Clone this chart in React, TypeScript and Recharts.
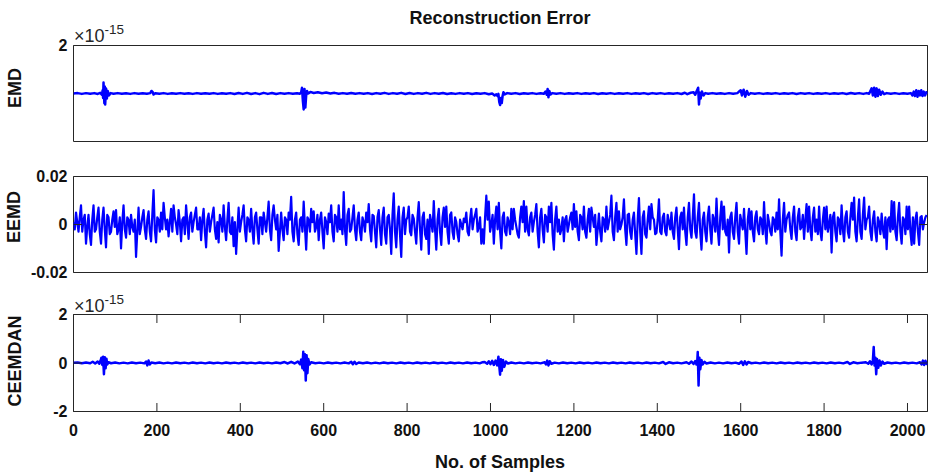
import React from 'react';
import { LineChart, Line, XAxis, YAxis, ReferenceArea } from 'recharts';

const W = 932;
const H = 472;
const FONT = '"Liberation Sans", Arial, Helvetica, sans-serif';
const BLUE = '#0000ff';
const AXIS = '#262626';
const TICK_LEN = 8.5;
const N_MAX = 2048;

// x ticks (sample index)
const xTicks = [0, 200, 400, 600, 800, 1000, 1200, 1400, 1600, 1800, 2000];

// EMD reconstruction error, [sample, value x 1e-15]
const emdPoints: [number, number][] = [
  [0, 1.25], [10, 1.256], [20, 1.244], [30, 1.256], [40, 1.245], [50, 1.256], [58, 1.243], [64, 1.26], [68, 1.23], [70, 1.3],
  [71, 1.18], [72, 1.42], [74, 1.1], [75, 1.36], [76, 1.08], [78, 1.33], [80, 1.17], [82, 1.29], [85, 1.22], [89, 1.256],
  [96, 1.245], [106, 1.256], [116, 1.245], [126, 1.255], [136, 1.244], [146, 1.256], [156, 1.245], [166, 1.255], [176, 1.245], [184, 1.256],
  [187, 1.29], [190, 1.27], [192, 1.235], [196, 1.255], [206, 1.245], [216, 1.256], [226, 1.244], [236, 1.255], [246, 1.245], [256, 1.256],
  [266, 1.245], [276, 1.255], [286, 1.244], [296, 1.256], [306, 1.245], [316, 1.255], [326, 1.245], [336, 1.256], [346, 1.244], [356, 1.255],
  [366, 1.245], [376, 1.256], [386, 1.242], [396, 1.258], [406, 1.244], [416, 1.26], [426, 1.242], [436, 1.256], [446, 1.24], [456, 1.26],
  [466, 1.244], [476, 1.258], [486, 1.242], [496, 1.256], [506, 1.245], [516, 1.256], [526, 1.245], [536, 1.255], [543, 1.246], [546, 1.27],
  [548, 1.34], [550, 1.14], [552, 1.0], [553, 1.24], [554, 1.32], [556, 1.03], [558, 1.22], [560, 1.29], [563, 1.25], [568, 1.275],
  [576, 1.258], [586, 1.27], [596, 1.255], [606, 1.265], [616, 1.25], [626, 1.26], [636, 1.247], [646, 1.256], [656, 1.245], [666, 1.258],
  [676, 1.245], [686, 1.256], [696, 1.245], [706, 1.256], [716, 1.242], [726, 1.256], [736, 1.245], [746, 1.26], [756, 1.244], [766, 1.256],
  [776, 1.245], [786, 1.26], [796, 1.242], [806, 1.258], [816, 1.244], [826, 1.256], [836, 1.245], [846, 1.26], [856, 1.244], [866, 1.256],
  [876, 1.245], [886, 1.258], [896, 1.242], [906, 1.255], [916, 1.244], [926, 1.256], [936, 1.245], [946, 1.256], [956, 1.242], [966, 1.255],
  [976, 1.245], [986, 1.256], [996, 1.238], [1004, 1.25], [1010, 1.22], [1014, 1.236], [1017, 1.21], [1019, 1.245], [1021, 1.12], [1023, 1.07],
  [1025, 1.18], [1027, 1.1], [1029, 1.21], [1031, 1.27], [1034, 1.235], [1040, 1.256], [1050, 1.245], [1060, 1.256], [1070, 1.242], [1080, 1.255],
  [1090, 1.245], [1100, 1.256], [1110, 1.244], [1120, 1.255], [1128, 1.245], [1132, 1.28], [1135, 1.23], [1137, 1.32], [1139, 1.19], [1141, 1.29],
  [1144, 1.235], [1148, 1.256], [1158, 1.245], [1168, 1.256], [1178, 1.244], [1188, 1.255], [1198, 1.245], [1208, 1.256], [1218, 1.244], [1228, 1.255],
  [1238, 1.245], [1248, 1.256], [1258, 1.242], [1268, 1.255], [1278, 1.245], [1288, 1.256], [1298, 1.244], [1308, 1.255], [1318, 1.245], [1328, 1.256],
  [1338, 1.244], [1348, 1.255], [1358, 1.245], [1368, 1.256], [1378, 1.242], [1388, 1.256], [1398, 1.245], [1408, 1.256], [1418, 1.244], [1428, 1.255],
  [1438, 1.245], [1448, 1.256], [1458, 1.242], [1466, 1.262], [1472, 1.24], [1480, 1.262], [1487, 1.27], [1491, 1.23], [1494, 1.28], [1496, 1.31],
  [1498, 1.34], [1500, 1.08], [1502, 1.26], [1504, 1.17], [1507, 1.28], [1511, 1.22], [1515, 1.256], [1522, 1.245], [1532, 1.256], [1542, 1.245],
  [1552, 1.255], [1562, 1.244], [1572, 1.256], [1582, 1.245], [1592, 1.256], [1596, 1.28], [1600, 1.3], [1603, 1.22], [1607, 1.31], [1611, 1.2],
  [1615, 1.29], [1619, 1.23], [1624, 1.256], [1634, 1.245], [1644, 1.256], [1654, 1.244], [1664, 1.255], [1674, 1.245], [1684, 1.256], [1694, 1.244],
  [1704, 1.255], [1714, 1.245], [1724, 1.256], [1734, 1.242], [1744, 1.256], [1754, 1.245], [1764, 1.256], [1774, 1.244], [1784, 1.255], [1794, 1.245],
  [1804, 1.256], [1814, 1.244], [1824, 1.255], [1834, 1.245], [1844, 1.256], [1854, 1.242], [1864, 1.258], [1874, 1.245], [1884, 1.256], [1894, 1.244],
  [1902, 1.256], [1908, 1.245], [1911, 1.29], [1914, 1.33], [1917, 1.22], [1920, 1.34], [1923, 1.2], [1926, 1.33], [1929, 1.21], [1932, 1.31],
  [1936, 1.23], [1940, 1.28], [1944, 1.24], [1950, 1.256], [1960, 1.245], [1970, 1.256], [1980, 1.244], [1990, 1.255], [2000, 1.245], [2008, 1.256],
  [2012, 1.22], [2015, 1.28], [2018, 1.21], [2021, 1.3], [2024, 1.2], [2027, 1.29], [2030, 1.22], [2033, 1.3], [2036, 1.21], [2039, 1.28],
  [2042, 1.22], [2045, 1.27], [2047, 1.24],
];

// EEMD reconstruction error, units of 1e-3, read every 3 samples:
// eemdMilliA at samples 0, 6, 12, ... and eemdMilliB at samples 3, 9, 15, ...
const EEMD_STEP = 6;
const eemdMilliA = [
  1, 5, -3, 8, 2, -8, 4, -8.5, 8, -2,
  7, -8, 7, -9.5, 3, -3, 5.5, 6, -2, -10,
  8, -5.5, 2, 4, -3, -13.5, 7, -1, 6, -6,
  5.5, -7, 14.3, -7.5, 2, 5, 9, -2, -5, 6.5,
  8, 0, 6, -7, 3, 8, -6, 5, 1, 7,
  -2, -6.5, 6.5, -9.5, 4.5, 1, 7, -6, -7.5, 2,
  8, -6.5, 9, -4, -9, -12.3, 7, 1, 8, -7,
  2, 6.5, -8, 5, -8, 3, 5, -3, 9.5, -6.5,
  8, -2, -11, 5, -6.5, 2, 5, 11.5, -7, 5,
  -8.5, 3, 9.5, -10.5, 2, 6.5, 5.5, -1, -6.5, 5,
  -10, 1, 4.5, 8, -7, 3, 8, 2, 13.5, -8.5,
  6.5, -2, 8, -6.5, 5,
  -6.5, 1, 5, 8.5, -7, 3.5, -9.5, 6, -8.5, 7,
  -8, 4, -12.3, 13, -9.5, 7.5, -13.5, 7, 2, 7.5,
  -4.5, 2.5, -8, 9.3, -10.5, 5, -6, -12.3, 1, 9.8,
  -10.5, 6.5, -8.5, 7, 7.5, -8, 5, -6, 1, -7,
  0, 2.5, 5, -4.5, 6.5, 2, 6.5, -1, -8, -8,
  12, 9.5, 0, -8, 7.5, 9, -10, 5, -4.5, 1,
  6.5, 6.5, -1, -5.5, 7.5, 9.8, 7.5, -4.5, 5, 1,
  8.5, -9.5, 6.5, -7.5, 3, 7.5, 9, -10.5, 7.5, 2,
  -2, -7, 3.5, 0, 5, 8.5, 5.5, -6.5, 3, 7.5,
  -5.5, 6.5, 7, -1, -8.5, 4.5, -7, 2, 7.5, 1,
  12, -6.5, 9, 5.5, 0, 10.5, -8.5, 4.5, -6, 5,
  -12.3, 11, -12.3, 5.5,
  -5.5, 7.5, 8.5, 2, -3.5, 10.5, -4, 4.5, -4.5, 1,
  5, -6, 7, -10.3, 5, 7, -8.5, 9, -5.5, 12.6,
  -5.5, 9, -10.5, 5, -7, 7.5, -8, 2, 10.8, -8.5,
  9.5, 7.5, -4.5, -11.7, 5, -6, 9, -8, 1, 6.5,
  -12.3, 6.5, 5.5, -7, 5.5, -4, 2, 9.3, -8, 1,
  -4.5, 2, 5, 10.5, -13, 9, 2, 5, -6, 7.5,
  -6.5, 6.5, -1, -6, 8.5, 7.5, -6.5, 7, 2, 7.5,
  -6.5, 7, 7.5, 0, -11.7, 5, -7, 2, 8, -7,
  5.5, -5.5, 9, 11.2, -7, 10.5, -6, 11.2, 2, 7.5,
  -6.5, 5.5, -7, 1, 4.5, -5.5, -10.3, 3, 9.8, 9.3,
  -6.5, 9, -8, 2, 7.5, 7.5, -8.5, -8, 5, -8.5,
  3.5, 1, 4,
];
const eemdMilliB = [
  -2, 1, 3, -3, 4, -1, -4, 2, -3, 3,
  -3, 2, -2, 4, -4, 2, -1, -4, 3, 1,
  -2, 3, -4, -1, 2, -3, -4, 3, -2, 2,
  -3, 4, -2, 3, -3, -2, 3, 2, 1, -3,
  3, -4, 1, 2, -4, 1, 3, -3, 4, -2,
  3, 2, -3, 2, -3, 4, -2, 1, 4, -3,
  -1, 2, -3, 3, 1, -2, -3, 4, -2, 3,
  -3, -2, 3, -2, 3, -4, 1, 3, -2, 4,
  2, 4, -3, -2, 3, -4, 2, -3, 2, -4,
  2, -3, -1, 3, -3, 1, -3, 4, 2, -3,
  3, -4, 1, -3, 4, -3, -2, -4, -2, 4,
  -3, 3, -2, 2, -3,
  3, -3, 1, -2, 4, -3, 3, -2, 3, -4,
  3, -2, 4, -3, 2, -4, 3, -4, 3, -3,
  4, -3, 3, -2, 3, -4, 2, 4, -3, -2,
  2, -3, 3, -1, -3, 4, -3, 3, -4, 2,
  -2, 1, -3, 2, -2, 4, -3, 3, -2, 3,
  2, -3, 4, 2, -2, -3, 3, -3, 3, -4,
  -2, 2, -4, 3, 1, -3, -2, 3, -3, 4,
  -3, 3, -2, 4, -3, 1, -4, 2, -3, -4,
  3, 2, -3, 3, -2, -1, -3, 4, -2, -3,
  2, -3, 3, 4, -2, -3, 3, -3, -2, 4,
  -3, 3, -3, -2, 3, -2, 4, -3, 2, -4,
  2, -3, 3, -4,
  2, -2, 3, -4, 2, -3, 3, -3, 4, -2,
  -3, 3, -2, 3, -2, -3, 3, -2, 3, -3,
  3, -3, 2, -3, 3, -2, 4, -3, -2, 3,
  -2, -3, 2, 3, -3, 3, -3, 4, -2, -3,
  2, -2, -3, 3, -2, 3, -4, -2, 4, -3,
  3, -3, -2, -3, 2, -3, 4, -2, 3, -3,
  3, -2, 4, 2, -3, -2, 3, -3, -4, -3,
  2, -2, -3, 4, 3, -3, 3, -4, -2, 3,
  -3, 3, 2, -3, 3, -3, 4, -2, 3, -3,
  2, -3, 3, -4, -2, 3, 2, -3, -2, -3,
  3, -3, 3, -4, -2, -3, 3, 2, -3, 3,
  -2, 3,
];

// CEEMDAN reconstruction error, [sample, value x 1e-15]
const ceemdanPoints: [number, number][] = [
  [0, 0.01], [10, 0.02], [20, -0.01], [30, 0.02], [40, -0.01], [46, 0.05], [52, -0.02], [58, 0.06], [62, -0.03], [65, 0.1],
  [67, 0.22], [69, -0.08], [71, 0.26], [73, -0.46], [75, 0.24], [77, -0.22], [79, 0.18], [81, -0.06], [84, 0.03], [90, -0.01],
  [100, 0.02], [110, -0.015], [120, 0.015], [130, -0.015], [140, 0.02], [150, -0.01], [160, 0.015], [170, -0.015], [174, 0.06], [177, -0.1],
  [180, 0.1], [183, -0.06], [187, 0.02], [196, -0.01], [206, 0.02], [216, -0.015], [226, 0.015], [236, -0.015], [246, 0.02], [256, -0.01],
  [266, 0.015], [276, -0.015], [286, 0.02], [296, -0.01], [306, 0.015], [316, -0.015], [326, 0.02], [336, -0.01], [346, 0.015], [356, -0.015],
  [366, 0.02], [376, -0.01], [386, 0.015], [396, -0.015], [406, 0.02], [416, -0.01], [426, 0.015], [436, -0.015], [446, 0.02], [456, -0.01],
  [466, 0.015], [476, -0.015], [486, 0.02], [496, -0.01], [506, 0.04], [514, -0.02], [522, 0.05], [530, -0.02], [538, 0.06], [543, -0.05],
  [546, 0.14], [549, -0.22], [551, 0.46], [553, -0.3], [555, 0.36], [557, -0.72], [559, 0.32], [561, -0.42], [563, 0.16], [566, -0.06],
  [570, 0.03], [580, -0.01], [590, 0.015], [600, -0.015], [610, 0.02], [620, -0.01], [630, 0.015], [640, -0.015], [650, 0.02], [660, -0.015],
  [666, 0.05], [670, -0.05], [674, 0.05], [678, -0.04], [684, 0.02], [694, -0.01], [704, 0.02], [714, -0.015], [724, 0.015], [734, -0.015],
  [744, 0.02], [754, -0.01], [764, 0.015], [774, -0.015], [784, 0.02], [794, -0.01], [804, 0.015], [814, -0.015], [824, 0.02], [834, -0.01],
  [844, 0.015], [854, -0.015], [864, 0.02], [874, -0.01], [884, 0.015], [894, -0.015], [904, 0.02], [914, -0.01], [924, 0.015], [934, -0.015],
  [944, 0.02], [954, -0.01], [964, 0.015], [974, -0.015], [980, 0.03], [986, 0.04], [992, -0.03], [996, 0.07], [1000, -0.05], [1004, 0.09],
  [1008, -0.08], [1012, 0.1], [1016, -0.1], [1019, 0.26], [1021, -0.12], [1023, -0.48], [1025, 0.15], [1027, -0.32], [1030, 0.12], [1033, -0.16],
  [1037, 0.06], [1042, -0.02], [1050, 0.02], [1060, -0.015], [1070, 0.015], [1080, -0.015], [1090, 0.02], [1100, -0.01], [1110, 0.015], [1120, -0.015],
  [1130, 0.03], [1133, -0.06], [1136, 0.1], [1139, -0.1], [1142, 0.07], [1146, -0.03], [1154, 0.015], [1164, -0.015], [1174, 0.02], [1184, -0.01],
  [1194, 0.015], [1204, -0.015], [1214, 0.02], [1224, -0.01], [1234, 0.015], [1244, -0.015], [1254, 0.02], [1264, -0.01], [1274, 0.015], [1284, -0.015],
  [1294, 0.02], [1304, -0.01], [1314, 0.015], [1324, -0.015], [1334, 0.02], [1344, -0.01], [1354, 0.015], [1364, -0.015], [1374, 0.02], [1384, -0.01],
  [1394, 0.015], [1404, -0.015], [1414, 0.04], [1420, -0.04], [1428, 0.03], [1438, -0.01], [1448, 0.015], [1458, -0.015], [1470, 0.03], [1476, -0.03],
  [1482, 0.06], [1487, -0.04], [1491, 0.08], [1494, -0.06], [1496, 0.12], [1497, 0.45], [1499, -0.93], [1501, 0.22], [1503, -0.26], [1506, 0.12],
  [1509, -0.06], [1513, 0.05], [1518, -0.02], [1528, 0.02], [1538, -0.015], [1548, 0.015], [1558, -0.015], [1568, 0.02], [1578, -0.01], [1588, 0.015],
  [1596, -0.03], [1602, 0.06], [1606, -0.08], [1610, 0.07], [1614, -0.06], [1618, 0.04], [1626, -0.01], [1636, 0.015], [1646, -0.015], [1656, 0.02],
  [1666, -0.01], [1676, 0.015], [1686, -0.015], [1696, 0.02], [1706, -0.01], [1716, 0.015], [1726, -0.015], [1736, 0.02], [1746, -0.01], [1756, 0.015],
  [1766, -0.015], [1776, 0.02], [1786, -0.01], [1796, 0.015], [1806, -0.015], [1816, 0.02], [1826, -0.01], [1836, 0.015], [1846, -0.015], [1856, 0.04],
  [1862, -0.04], [1870, 0.03], [1880, -0.01], [1890, 0.015], [1900, 0.03], [1906, -0.03], [1910, 0.07], [1914, -0.06], [1917, 0.1], [1919, 0.66],
  [1921, -0.1], [1923, 0.22], [1925, -0.46], [1927, 0.16], [1930, -0.2], [1933, 0.1], [1936, -0.1], [1940, 0.06], [1944, -0.03], [1952, 0.02],
  [1962, -0.01], [1972, 0.015], [1982, -0.015], [1992, 0.02], [2002, -0.01], [2012, 0.015], [2022, -0.015], [2030, 0.03], [2034, -0.06], [2037, 0.1],
  [2040, -0.08], [2043, 0.09], [2046, -0.04], [2047, 0.02],
];

const emdData = emdPoints.map(([s, v]) => ({ s, v }));
const ceemdanData = ceemdanPoints.map(([s, v]) => ({ s, v }));
const eemdData: { s: number; v: number }[] = [];
eemdMilliA.forEach((v, i) => {
  eemdData.push({ s: i * EEMD_STEP, v });
  if (i < eemdMilliB.length) eemdData.push({ s: i * EEMD_STEP + EEMD_STEP / 2, v: eemdMilliB[i] });
});

// plot frame (pixels) shared by all three panels
const PLOT_LEFT = 73.5;
const PLOT_RIGHT = 927.5;
const YAXIS_W = 60;
const RAXIS_W = 4;
const TOP_AXIS_H = 10;
const BOTTOM_AXIS_H = 40;

const tickText = {
  fontFamily: FONT,
  fontWeight: 'bold' as const,
  fontSize: 16,
  fill: '#111',
};

type PanelProps = {
  data: { s: number; v: number }[];
  top: number;
  bottom: number;
  domain: [number, number];
  yTicks: number[];
  fmt: (v: number) => string;
  showX: boolean;
  lineWidth: number;
};

function Panel({ data, top, bottom, domain, yTicks, fmt, showX, lineWidth }: PanelProps) {
  const margin = {
    top: top - (showX ? TOP_AXIS_H : 0),
    bottom: H - bottom - (showX ? BOTTOM_AXIS_H : 0),
    left: PLOT_LEFT - YAXIS_W,
    right: W - PLOT_RIGHT - RAXIS_W,
  };

  return (
    <div style={{ position: 'absolute', left: 0, top: 0 }}>
      <LineChart width={W} height={H} data={data} margin={margin}>
        <XAxis
          xAxisId="b"
          dataKey="s"
          type="number"
          domain={[0, N_MAX]}
          ticks={xTicks}
          interval={0}
          allowDataOverflow
          hide={!showX}
          height={BOTTOM_AXIS_H}
          axisLine={false}
          tickLine={false}
          tickSize={0}
          tickMargin={0}
          tick={(p: any) => (
            <g>
              <line x1={p.x} y1={p.y} x2={p.x} y2={p.y - TICK_LEN} stroke={AXIS} />
              <text x={p.x} y={p.y + 24} textAnchor="middle" {...tickText}>
                {p.payload.value}
              </text>
            </g>
          )}
        />
        <XAxis
          xAxisId="t"
          orientation="top"
          dataKey="s"
          type="number"
          domain={[0, N_MAX]}
          ticks={xTicks}
          interval={0}
          allowDataOverflow
          hide={!showX}
          height={TOP_AXIS_H}
          axisLine={false}
          tickLine={false}
          tickSize={0}
          tickMargin={0}
          tick={(p: any) => (
            <line x1={p.x} y1={p.y} x2={p.x} y2={p.y + TICK_LEN} stroke={AXIS} />
          )}
        />
        <YAxis
          yAxisId="l"
          type="number"
          domain={domain}
          ticks={yTicks}
          interval={0}
          allowDataOverflow
          width={YAXIS_W}
          axisLine={false}
          tickLine={false}
          tickSize={0}
          tickMargin={0}
          tick={(p: any) => (
            <g>
              <line x1={p.x} y1={p.y} x2={p.x + TICK_LEN} y2={p.y} stroke={AXIS} />
              <text x={p.x - 6} y={p.y} dy="0.36em" textAnchor="end" {...tickText}>
                {fmt(p.payload.value)}
              </text>
            </g>
          )}
        />
        <YAxis
          yAxisId="r"
          orientation="right"
          type="number"
          domain={domain}
          ticks={yTicks}
          interval={0}
          allowDataOverflow
          width={RAXIS_W}
          axisLine={false}
          tickLine={false}
          tickSize={0}
          tickMargin={0}
          tick={(p: any) => (
            <line x1={p.x} y1={p.y} x2={p.x - TICK_LEN} y2={p.y} stroke={AXIS} />
          )}
        />
        <Line
          xAxisId="b"
          yAxisId="l"
          dataKey="v"
          type="linear"
          stroke={BLUE}
          strokeWidth={lineWidth}
          strokeLinejoin="round"
          dot={false}
          activeDot={false}
          isAnimationActive={false}
        />
        <ReferenceArea
          xAxisId="b"
          yAxisId="l"
          x1={0}
          x2={N_MAX}
          y1={domain[0]}
          y2={domain[1]}
          fill="none"
          fillOpacity={0}
          stroke={AXIS}
          strokeWidth={1}
        />
      </LineChart>
    </div>
  );
}

const labelText = {
  fontFamily: FONT,
  fontWeight: 'bold' as const,
  fontSize: 18,
  fill: '#111',
};

function Exponent({ x, y }: { x: number; y: number }) {
  return (
    <text x={x} y={y} fontFamily={FONT} fontSize={18} fill={AXIS}>
      ×10
      <tspan dy={-8} fontSize={13.5}>
        -15
      </tspan>
    </text>
  );
}

export default function App() {
  return (
    <div style={{ position: 'absolute', left: 0, top: 0, width: W, height: H, background: '#fff' }}>
      <Panel
        data={emdData}
        top={45.5}
        bottom={141.5}
        domain={[0.5, 2]}
        yTicks={[2]}
        fmt={(v) => String(v)}
        showX={false}
        lineWidth={2.5}
      />
      <Panel
        data={eemdData}
        top={176.5}
        bottom={272.5}
        domain={[-20, 20]}
        yTicks={[-20, 0, 20]}
        fmt={(v) => (v === 0 ? '0' : String(v / 1000))}
        showX={false}
        lineWidth={2.2}
      />
      <Panel
        data={ceemdanData}
        top={314.5}
        bottom={411.5}
        domain={[-2, 2]}
        yTicks={[-2, 0, 2]}
        fmt={(v) => String(v)}
        showX={true}
        lineWidth={2.5}
      />
      <svg
        width={W}
        height={H}
        style={{ position: 'absolute', left: 0, top: 0, pointerEvents: 'none' }}
      >
        <text x={500} y={24} textAnchor="middle" {...labelText}>
          Reconstruction Error
        </text>
        <text x={500} y={468} textAnchor="middle" {...labelText}>
          No. of Samples
        </text>
        <text transform="translate(15,88) rotate(-90)" textAnchor="middle" dominantBaseline="central" {...labelText}>
          EMD
        </text>
        <text transform="translate(14,217) rotate(-90)" textAnchor="middle" dominantBaseline="central" {...labelText}>
          EEMD
        </text>
        <text transform="translate(15,361) rotate(-90)" textAnchor="middle" dominantBaseline="central" {...labelText}>
          CEEMDAN
        </text>
        <Exponent x={74} y={42} />
        <Exponent x={74} y={311.5} />
      </svg>
    </div>
  );
}
